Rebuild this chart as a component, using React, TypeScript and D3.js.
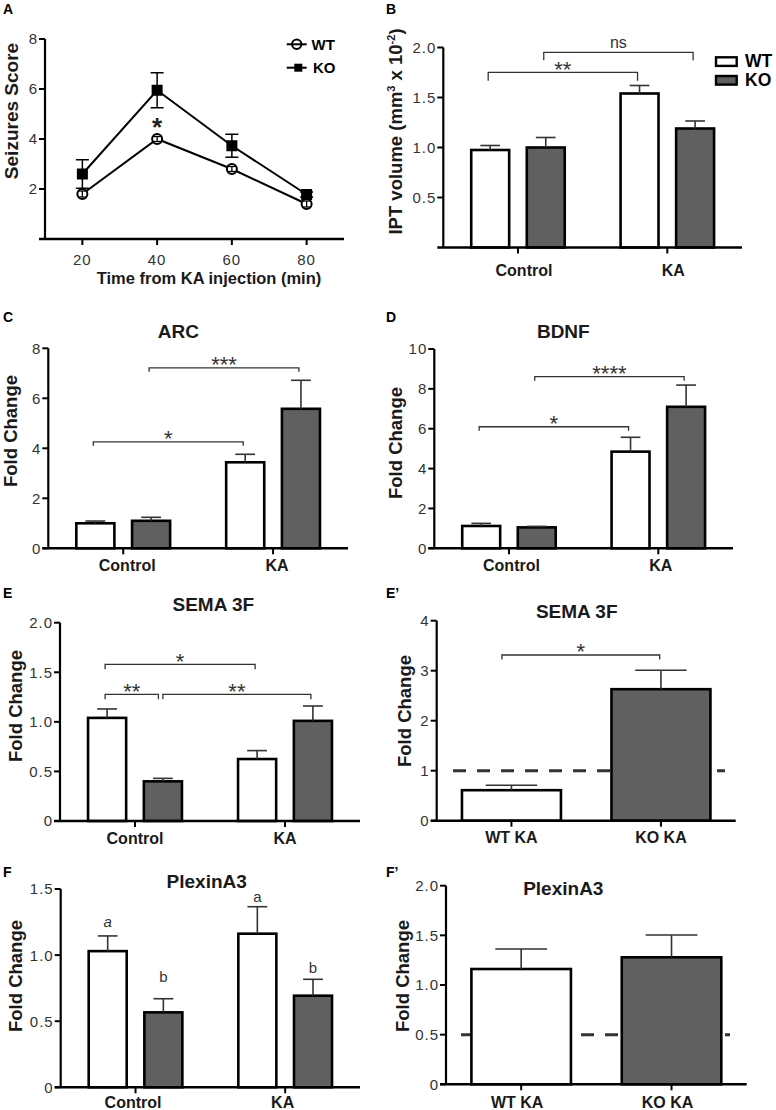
import React from "react";
import * as d3 from "d3";

const FONT = "'Liberation Sans', Arial, Helvetica, sans-serif";

// ---------- DATA ----------
// Panel A
const timePoints = [20, 40, 60, 80];
const seizureWT = [1.8, 4.0, 2.8, 1.4];
const seizureWTErr = [0.12, 0.1, 0.1, 0.12];
const seizureKO = [2.6, 5.95, 3.73, 1.78];
const seizureKOErr = [0.57, 0.7, 0.46, 0.1];
const seizureTicksY = [2, 4, 6, 8];
const seizureTicksX = [20, 40, 60, 80];

// Grouped panels
const groups = ["Control", "KA"];
const kaGroups = ["WT KA", "KO KA"];

const iptWT = [0.975, 1.54];
const iptWTErr = [0.045, 0.08];
const iptKO = [1.0, 1.19];
const iptKOErr = [0.1, 0.075];

const arcWT = [1.0, 3.44];
const arcWTErr = [0.09, 0.32];
const arcKO = [1.1, 5.58];
const arcKOErr = [0.14, 1.14];

const bdnfWT = [1.12, 4.85];
const bdnfWTErr = [0.13, 0.72];
const bdnfKO = [1.05, 7.1];
const bdnfKOErr = [0.05, 1.09];

const semaWT = [1.04, 0.625];
const semaWTErr = [0.09, 0.085];
const semaKO = [0.4, 1.01];
const semaKOErr = [0.03, 0.15];

const semaKA = [0.61, 2.63];
const semaKAErr = [0.1, 0.38];

const plexWT = [1.03, 1.162];
const plexWTErr = [0.115, 0.204];
const plexKO = [0.567, 0.693];
const plexKOErr = [0.103, 0.124];
const plexLetterText = ["a", "b", "a", "b"];
const plexLetterY = [1.215, 0.8, 1.404, 0.862];

const plexKA = [1.161, 1.279];
const plexKAErr = [0.202, 0.224];

const ticksB = [0.5, 1.0, 1.5, 2.0];
const ticksC = [0, 2, 4, 6, 8];
const ticksD = [0, 2, 4, 6, 8, 10];
const ticksE = [0, 0.5, 1.0, 1.5, 2.0];
const ticksE2 = [0, 1, 2, 3, 4];
const ticksF = [0, 0.5, 1.0, 1.5];
const ticksF2 = [0, 0.5, 1.0, 1.5, 2.0];

// ---------- STYLE ----------
const WHITE = "#ffffff";
const GRAY = "#606060";
const TICK_FS = 15;
const fmt1 = d3.format(".1f");
const fmtHalf = (v: number) => (v === 0 ? "0" : fmt1(v));
const fmtInt = (v: number) => String(v);

type Series = { values: number[]; errors: number[]; fills: string[] };
type Bracket = {
  from: [number, number];
  to: [number, number];
  y: number;
  label: string;
  drop: number;
  dx1?: number;
  dx2?: number;
};
type Letter = { text: string; g: number; s: number; y: number; italic?: boolean };

function YAxis({ x, scale, ticks, fmt }: { x: number; scale: d3.ScaleLinear<number, number>; ticks: number[]; fmt: (v: number) => string }) {
  const [d0, d1] = scale.domain();
  return (
    <g>
      <line x1={x} x2={x} y1={scale(d0)} y2={scale(d1)} stroke="#000" strokeWidth={2.2} />
      {ticks.map((t) => (
        <g key={t}>
          <line x1={x - 6} x2={x} y1={scale(t)} y2={scale(t)} stroke="#000" strokeWidth={2} />
          <text
            x={x - 7}
            y={scale(t)}
            dy="0.36em"
            textAnchor="end"
            fontSize={TICK_FS}
            letterSpacing={1}
            fill="#333"
          >
            {fmt(t)}
          </text>
        </g>
      ))}
    </g>
  );
}

function BarPanel(p: {
  letter: string;
  letterPos: [number, number];
  title?: string;
  titlePos?: [number, number];
  yLabel: React.ReactNode;
  yLabelPos: [number, number];
  axisX: number;
  axisEnd: number;
  yDomain: [number, number];
  yRange: [number, number];
  ticks: number[];
  fmt: (v: number) => string;
  cats: string[];
  catDx: number;
  catY: number;
  series: Series[];
  brackets?: Bracket[];
  refLine?: { value: number; x0: number; x1: number };
  letters?: Letter[];
}) {
  const y = d3.scaleLinear().domain(p.yDomain).range(p.yRange);
  const xg = d3.scaleBand().domain(p.cats).range([p.axisX, p.axisEnd]).padding(0);
  const step = xg.step();
  const paired = p.series.length === 2;
  const barW = paired ? step * 0.254 : step * 0.662;
  const off = paired ? step * 0.186 : 0;
  const capW = barW * 0.52;
  const cx = (g: number, s: number) =>
    (xg(p.cats[g]) as number) + step / 2 + (paired ? (s === 0 ? -off : off) : 0);
  const y0 = y(0);

  return (
    <g>
      <text x={p.letterPos[0]} y={p.letterPos[1]} fontSize={14} fontWeight={700}>
        {p.letter}
      </text>
      {p.title && p.titlePos && (
        <text x={p.titlePos[0]} y={p.titlePos[1]} fontSize={19} fontWeight={700} textAnchor="middle" fill="#1a1a1a">
          {p.title}
        </text>
      )}
      <text
        transform={`translate(${p.yLabelPos[0]},${p.yLabelPos[1]}) rotate(-90)`}
        textAnchor="middle"
        fontSize={18.5}
        fontWeight={700}
        fill="#1a1a1a"
      >
        {p.yLabel}
      </text>

      {p.refLine && (
        <line
          x1={p.refLine.x0}
          x2={p.refLine.x1}
          y1={y(p.refLine.value)}
          y2={y(p.refLine.value)}
          stroke="#333"
          strokeWidth={3}
          strokeDasharray="13 11"
        />
      )}

      {p.series.map((s, si) =>
        s.values.map((v, gi) => {
          const c = cx(gi, si);
          return (
            <g key={`${si}-${gi}`}>
              <rect
                x={c - barW / 2}
                y={y(v)}
                width={barW}
                height={y0 - y(v)}
                fill={s.fills[gi]}
                stroke="#000"
                strokeWidth={2.6}
              />
              <line x1={c} x2={c} y1={y(v)} y2={y(v + s.errors[gi])} stroke="#333" strokeWidth={1.6} />
              <line
                x1={c - capW / 2}
                x2={c + capW / 2}
                y1={y(v + s.errors[gi])}
                y2={y(v + s.errors[gi])}
                stroke="#333"
                strokeWidth={1.6}
              />
            </g>
          );
        })
      )}

      {/* x axis */}
      <line x1={p.axisX - 6} x2={p.axisEnd} y1={y0} y2={y0} stroke="#000" strokeWidth={2.4} />
      {p.cats.map((c, i) => {
        const xc = (xg(c) as number) + step / 2;
        return (
          <g key={c}>
            <line x1={xc} x2={xc} y1={y0} y2={y0 + 6} stroke="#000" strokeWidth={2} />
            <text x={xc + p.catDx} y={p.catY} textAnchor="middle" fontSize={16} fontWeight={700} fill="#1a1a1a">
              {c}
            </text>
          </g>
        );
      })}
      <YAxis x={p.axisX} scale={y} ticks={p.ticks} fmt={p.fmt} />

      {(p.brackets || []).map((b, i) => {
        const x1 = cx(b.from[0], b.from[1]) + (b.dx1 ?? -2);
        const x2 = cx(b.to[0], b.to[1]) + (b.dx2 ?? -2);
        const yy = y(b.y);
        const star = /^\*+$/.test(b.label);
        const fs = star ? 22 : 16;
        const center = yy - 8.5;
        const base = star ? center + 0.58 * fs : center + 0.27 * fs;
        return (
          <g key={i}>
            <path
              d={`M${x1},${yy + b.drop}V${yy}H${x2}V${yy + b.drop}`}
              fill="none"
              stroke="#333"
              strokeWidth={1.3}
            />
            <text x={(x1 + x2) / 2} y={base} textAnchor="middle" fontSize={fs} fill="#333">
              {b.label}
            </text>
          </g>
        );
      })}

      {(p.letters || []).map((l, i) => (
        <text
          key={i}
          x={cx(l.g, l.s)}
          y={y(l.y)}
          textAnchor="middle"
          fontSize={15}
          fontStyle={l.italic ? "italic" : "normal"}
          fill="#333"
        >
          {l.text}
        </text>
      ))}
    </g>
  );
}

function PanelA() {
  const x = d3.scaleLinear().domain([10, 90]).range([45, 344]);
  const y = d3.scaleLinear().domain([0, 8]).range([239, 39]);
  const line = d3
    .line<number>()
    .x((_, i) => x(timePoints[i]))
    .y((d) => y(d));
  const sq = 11;
  return (
    <g>
      <text x={3} y={13.5} fontSize={14} fontWeight={700}>
        A
      </text>
      <text
        transform={`translate(18,111) rotate(-90)`}
        textAnchor="middle"
        fontSize={19}
        fontWeight={700}
        fill="#1a1a1a"
      >
        Seizures Score
      </text>
      <path d={line(seizureWT) || ""} fill="none" stroke="#000" strokeWidth={2} />
      <path d={line(seizureKO) || ""} fill="none" stroke="#000" strokeWidth={2} />
      {seizureKO.map((v, i) => {
        const cx = x(timePoints[i]);
        const e = seizureKOErr[i];
        return (
          <g key={i}>
            <line x1={cx} x2={cx} y1={y(v - e)} y2={y(v + e)} stroke="#000" strokeWidth={1.5} />
            <line x1={cx - 6.5} x2={cx + 6.5} y1={y(v + e)} y2={y(v + e)} stroke="#000" strokeWidth={1.5} />
            <line x1={cx - 6.5} x2={cx + 6.5} y1={y(v - e)} y2={y(v - e)} stroke="#000" strokeWidth={1.5} />
            <rect x={cx - sq / 2} y={y(v) - sq / 2} width={sq} height={sq} fill="#000" />
          </g>
        );
      })}
      {seizureWT.map((v, i) => {
        const cx = x(timePoints[i]);
        const e = seizureWTErr[i];
        return (
          <g key={i}>
            <circle cx={cx} cy={y(v)} r={5} fill="#fff" stroke="#000" strokeWidth={2} />
            <line x1={cx} x2={cx} y1={y(v - e)} y2={y(v + e)} stroke="#000" strokeWidth={1.3} />
            <line x1={cx - 4} x2={cx + 4} y1={y(v + e)} y2={y(v + e)} stroke="#000" strokeWidth={1.3} />
            <line x1={cx - 4} x2={cx + 4} y1={y(v - e)} y2={y(v - e)} stroke="#000" strokeWidth={1.3} />
          </g>
        );
      })}
      <text x={x(40)} y={135.5} textAnchor="middle" fontSize={26} fontWeight={700} fill="#222">
        *
      </text>
      {/* axes */}
      <line x1={39} x2={344} y1={y(0)} y2={y(0)} stroke="#000" strokeWidth={2.4} />
      {seizureTicksX.map((t) => (
        <g key={t}>
          <line x1={x(t)} x2={x(t)} y1={y(0)} y2={y(0) + 6} stroke="#000" strokeWidth={2} />
          <text x={x(t)} y={265} textAnchor="middle" fontSize={TICK_FS} letterSpacing={1} fill="#333">
            {t}
          </text>
        </g>
      ))}
      <YAxis x={45} scale={y} ticks={seizureTicksY} fmt={fmtInt} />
      <text x={209} y={283.5} textAnchor="middle" fontSize={16.5} fontWeight={700} fill="#1a1a1a">
        Time from KA injection (min)
      </text>
      {/* legend */}
      <g>
        <circle cx={296.7} cy={44.3} r={4.7} fill="#fff" stroke="#000" strokeWidth={2} />
        <line x1={286.7} x2={306.7} y1={44.3} y2={44.3} stroke="#000" strokeWidth={2} />
        <text x={311.5} y={49.6} fontSize={15} fontWeight={700}>
          WT
        </text>
        <line x1={286.7} x2={306.7} y1={67.7} y2={67.7} stroke="#000" strokeWidth={2} />
        <rect x={294.3} y={63.7} width={8} height={8} fill="#000" />
        <text x={313} y={73} fontSize={15} fontWeight={700}>
          KO
        </text>
      </g>
    </g>
  );
}

export default function App() {
  const pair = (wt: number[], wtE: number[], ko: number[], koE: number[]): Series[] => [
    { values: wt, errors: wtE, fills: [WHITE, WHITE] },
    { values: ko, errors: koE, fills: [GRAY, GRAY] },
  ];
  const single = (v: number[], e: number[]): Series[] => [{ values: v, errors: e, fills: [WHITE, GRAY] }];

  return (
    <svg
      width={776}
      height={1110}
      style={{ position: "absolute", left: 0, top: 0, background: "#fff" }}
      fontFamily={FONT}
    >
      <rect width={776} height={1110} fill="#fff" />
      <PanelA />

      {/* B */}
      <BarPanel
        letter="B"
        letterPos={[386, 13.5]}
        yLabel={
          <>
            IPT volume (mm
            <tspan dy={-7} fontSize={11}>
              3
            </tspan>
            <tspan dy={7}> x 10</tspan>
            <tspan dy={-7} fontSize={11}>
              -2
            </tspan>
            <tspan dy={7}>)</tspan>
          </>
        }
        yLabelPos={[401.5, 131.5]}
        axisX={443.3}
        axisEnd={742}
        yDomain={[0, 2]}
        yRange={[247.5, 47.5]}
        ticks={ticksB}
        fmt={fmt1}
        cats={groups}
        catDx={6}
        catY={275.5}
        series={pair(iptWT, iptWTErr, iptKO, iptKOErr)}
        brackets={[
          { from: [0, 0], to: [1, 0], y: 1.752, label: "**", drop: 8.5 },
          { from: [0, 1], to: [1, 1], y: 1.952, label: "ns", drop: 8 },
        ]}
      />
      {/* B legend */}
      <g>
        <rect x={716} y={57.3} width={20.7} height={8.6} fill={WHITE} stroke="#000" strokeWidth={2.4} />
        <text x={745} y={67.2} fontSize={17.5} fontWeight={700}>
          WT
        </text>
        <rect x={716} y={76} width={20.7} height={8.6} fill={GRAY} stroke="#000" strokeWidth={2.4} />
        <text x={745} y={86.3} fontSize={17.5} fontWeight={700}>
          KO
        </text>
      </g>

      {/* C */}
      <BarPanel
        letter="C"
        letterPos={[3, 322]}
        title="ARC"
        titlePos={[178.3, 338.3]}
        yLabel="Fold Change"
        yLabelPos={[16.5, 431]}
        axisX={48.3}
        axisEnd={348}
        yDomain={[0, 8]}
        yRange={[548.3, 348.3]}
        ticks={ticksC}
        fmt={fmtInt}
        cats={groups}
        catDx={4}
        catY={570.7}
        series={pair(arcWT, arcWTErr, arcKO, arcKOErr)}
        brackets={[
          { from: [0, 1], to: [1, 1], y: 7.22, label: "***", drop: 4 },
          { from: [0, 0], to: [1, 0], y: 4.26, label: "*", drop: 4 },
        ]}
      />

      {/* D */}
      <BarPanel
        letter="D"
        letterPos={[386, 322]}
        title="BDNF"
        titlePos={[563.3, 338.3]}
        yLabel="Fold Change"
        yLabelPos={[401.5, 443]}
        axisX={434.3}
        axisEnd={733}
        yDomain={[0, 10]}
        yRange={[548.3, 349]}
        ticks={ticksD}
        fmt={fmtInt}
        cats={groups}
        catDx={2.5}
        catY={570.7}
        series={pair(bdnfWT, bdnfWTErr, bdnfKO, bdnfKOErr)}
        brackets={[
          { from: [0, 1], to: [1, 1], y: 8.61, label: "****", drop: 4 },
          { from: [0, 0], to: [1, 0], y: 6.1, label: "*", drop: 4 },
        ]}
      />

      {/* E */}
      <BarPanel
        letter="E"
        letterPos={[3, 598]}
        title="SEMA 3F"
        titlePos={[213.3, 610.7]}
        yLabel="Fold Change"
        yLabelPos={[22, 706]}
        axisX={60}
        axisEnd={360}
        yDomain={[0, 2]}
        yRange={[821, 622.7]}
        ticks={ticksE}
        fmt={fmtHalf}
        cats={groups}
        catDx={0}
        catY={843.5}
        series={pair(semaWT, semaWTErr, semaKO, semaKOErr)}
        brackets={[
          { from: [0, 0], to: [1, 0], y: 1.58, label: "*", drop: 5 },
          { from: [0, 0], to: [0, 1], y: 1.278, label: "**", drop: 5, dx2: -4.5 },
          { from: [0, 1], to: [1, 1], y: 1.278, label: "**", drop: 5, dx1: 0 },
        ]}
      />

      {/* E' */}
      <BarPanel
        letter="E’"
        letterPos={[386, 598]}
        title="SEMA 3F"
        titlePos={[576.7, 618.3]}
        yLabel="Fold Change"
        yLabelPos={[410.5, 711]}
        axisX={436.7}
        axisEnd={735.7}
        yDomain={[0, 4]}
        yRange={[820.7, 620.7]}
        ticks={ticksE2}
        fmt={fmtInt}
        cats={kaGroups}
        catDx={0}
        catY={842.7}
        series={single(semaKA, semaKAErr)}
        brackets={[{ from: [0, 0], to: [1, 0], y: 3.314, label: "*", drop: 4.5, dx1: -9.5, dx2: -1.3 }]}
        refLine={{ value: 1, x0: 453, x1: 725 }}
      />

      {/* F */}
      <BarPanel
        letter="F"
        letterPos={[3, 877]}
        title="PlexinA3"
        titlePos={[206.7, 888.3]}
        yLabel="Fold Change"
        yLabelPos={[22, 976]}
        axisX={60.7}
        axisEnd={360}
        yDomain={[0, 1.5]}
        yRange={[1087.3, 889]}
        ticks={ticksF}
        fmt={fmtHalf}
        cats={groups}
        catDx={-2.5}
        catY={1107.5}
        series={pair(plexWT, plexWTErr, plexKO, plexKOErr)}
        letters={plexLetterText.map((t, i) => ({
          text: t,
          g: Math.floor(i / 2),
          s: i % 2,
          y: plexLetterY[i],
          italic: i === 0,
        }))}
      />

      {/* F' */}
      <BarPanel
        letter="F’"
        letterPos={[386, 877]}
        title="PlexinA3"
        titlePos={[563.3, 895]}
        yLabel="Fold Change"
        yLabelPos={[408.5, 976]}
        axisX={446}
        axisEnd={746.7}
        yDomain={[0, 2]}
        yRange={[1084.3, 885.7]}
        ticks={ticksF2}
        fmt={fmtHalf}
        cats={kaGroups}
        catDx={-4}
        catY={1107.5}
        series={single(plexKA, plexKAErr)}
        refLine={{ value: 0.5, x0: 461, x1: 730 }}
      />
    </svg>
  );
}
